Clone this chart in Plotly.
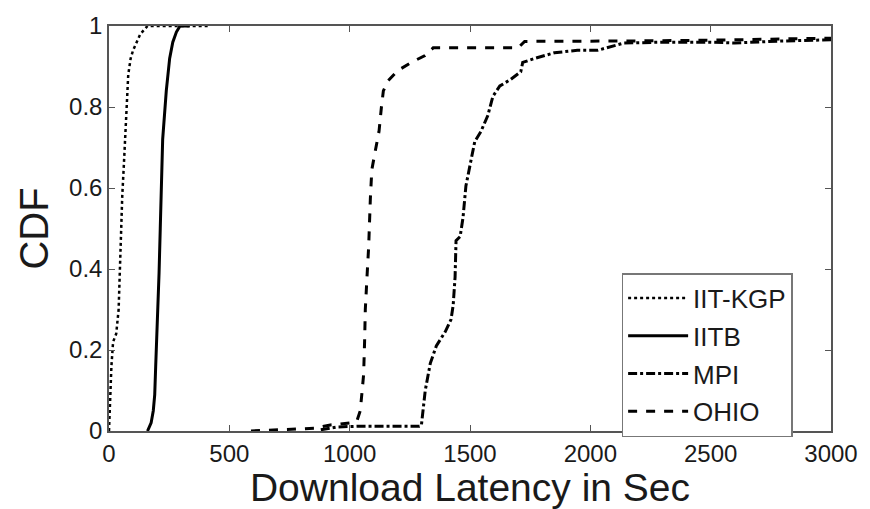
import plotly.graph_objects as go

# IIT-KGP (dotted)
kgp_x = [0, 4, 10, 17, 30, 40, 45, 50, 55, 62, 68, 74, 80, 90, 100, 115, 130, 145, 160, 250, 410]
kgp_y = [0, 0.08, 0.16, 0.22, 0.24, 0.30, 0.40, 0.50, 0.58, 0.66, 0.74, 0.82, 0.88, 0.92, 0.94, 0.96, 0.98, 0.99, 1.0, 1.0, 1.0]

# IITB (solid)
iitb_x = [160, 175, 184, 190, 194, 199, 204, 208, 213, 218, 223, 238, 252, 265, 280, 295, 335]
iitb_y = [0, 0.02, 0.05, 0.09, 0.16, 0.23, 0.31, 0.39, 0.50, 0.60, 0.72, 0.84, 0.92, 0.96, 0.985, 1.0, 1.0]

# MPI (dash-dot)
mpi_x = [880, 950, 1050, 1150, 1250, 1290, 1298, 1314, 1335, 1360, 1397, 1421, 1430, 1438, 1442, 1459,
         1471, 1483, 1504, 1520, 1545, 1574, 1595, 1624, 1669, 1711, 1719, 1769, 1851, 1946, 2030, 2070,
         2140, 2300, 2500, 2600, 2800, 3000]
mpi_y = [0.003, 0.01, 0.012, 0.012, 0.012, 0.012, 0.014, 0.10, 0.167, 0.21, 0.245, 0.275, 0.31, 0.38, 0.47, 0.48,
         0.527, 0.605, 0.668, 0.715, 0.739, 0.779, 0.826, 0.852, 0.868, 0.887, 0.91, 0.92, 0.934, 0.94, 0.94, 0.947,
         0.958, 0.96, 0.96, 0.958, 0.963, 0.966]

# OHIO (dashed)
ohio_x = [590, 700, 800, 860, 880, 920, 960, 1000, 1030, 1044, 1052, 1058, 1062, 1065, 1072, 1079, 1086, 1092,
          1106, 1122, 1132, 1140, 1160, 1200, 1256, 1313, 1347, 1500, 1700, 1727, 2000, 2140, 2500, 3000]
ohio_y = [0, 0.003, 0.005, 0.007, 0.01, 0.015, 0.017, 0.02, 0.025, 0.05, 0.10, 0.14, 0.22, 0.30, 0.38, 0.456, 0.574, 0.645,
          0.69, 0.74, 0.80, 0.84, 0.865, 0.89, 0.91, 0.927, 0.946, 0.946, 0.946, 0.962, 0.962, 0.963, 0.965, 0.97]

x_ticks = [0, 500, 1000, 1500, 2000, 2500, 3000]
y_ticks = [0, 0.2, 0.4, 0.6, 0.8, 1]
y_tick_text = ["0", "0.2", "0.4", "0.6", "0.8", "1"]

FONT = "Liberation Sans, Arial, sans-serif"
INK = "#1a1a1a"
AXC = "#555555"

fig = go.Figure()
series = [
    ("IIT-KGP", kgp_x, kgp_y, "dot", 2.5),
    ("IITB", iitb_x, iitb_y, "solid", 3),
    ("MPI", mpi_x, mpi_y, "dashdot", 3),
    ("OHIO", ohio_x, ohio_y, "dash", 3),
]
for name, xs, ys, dash, w in series:
    fig.add_trace(go.Scatter(x=xs, y=ys, mode="lines", name=name, legendgroup=name,
                             line=dict(color="black", width=w, dash=dash)))

axis_common = dict(showline=True, linecolor=AXC, linewidth=1.5, mirror="ticks",
                   ticks="inside", ticklen=6, tickcolor=AXC, tickwidth=1,
                   showgrid=False, zeroline=False,
                   tickfont=dict(family=FONT, size=24, color=INK))

fig.update_xaxes(range=[0, 3000], tickvals=x_ticks, **axis_common,
                 title=dict(text="Download Latency in Sec", font=dict(family=FONT, size=39, color=INK), standoff=3))
fig.update_yaxes(range=[0, 1], tickvals=y_ticks, ticktext=y_tick_text, **axis_common,
                 title=dict(text="CDF", font=dict(family=FONT, size=40, color=INK), standoff=8))

fig.update_layout(
    width=870, height=509,
    margin=dict(l=109, r=35, t=19, b=65),
    paper_bgcolor="white", plot_bgcolor="white",
    showlegend=True,
    legend=dict(x=0.71, y=0.39, xanchor="left", yanchor="top",
                bgcolor="white", bordercolor="#777777", borderwidth=1.5,
                font=dict(family=FONT, size=26, color=INK),
                itemwidth=60, tracegroupgap=1, traceorder="grouped"),
)

fig.write_html("out.html")
